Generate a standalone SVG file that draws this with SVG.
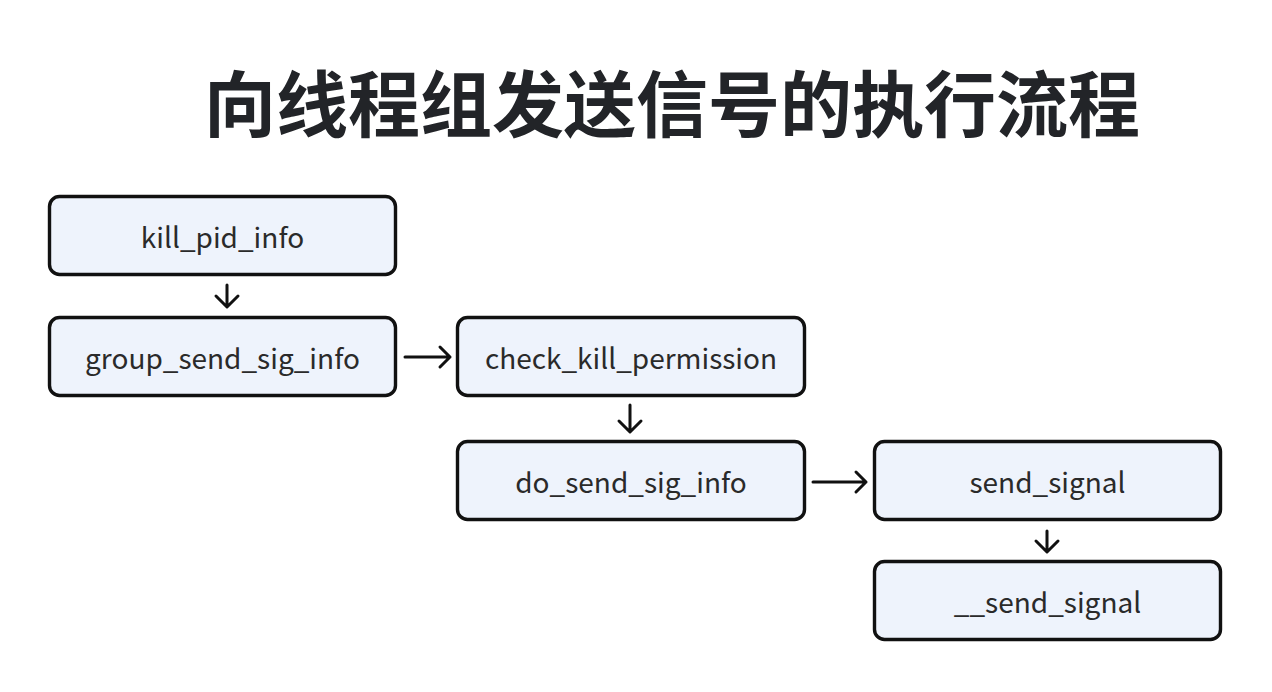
<svg xmlns="http://www.w3.org/2000/svg" width="1272" height="692" viewBox="0 0 1272 692">
<style>
.box{fill:#eef3fc;stroke:#111;stroke-width:3.4}
.lbl{font-family:"Noto Sans CJK SC","Noto Sans",sans-serif;font-size:28px;fill:#2a2a2a;text-anchor:middle}
.title{font-family:"Noto Sans CJK SC",sans-serif;font-size:72px;font-weight:bold;fill:#222428;text-anchor:middle}
.arr{fill:none;stroke:#111;stroke-width:3;stroke-linecap:round;stroke-linejoin:round}
</style>
<rect width="1272" height="692" fill="#ffffff"/>
<text class="title" x="672" y="131">向线程组发送信号的执行流程</text>
<g id="n1"><rect class="box" x="49.5" y="196.5" width="346" height="78" rx="10"/><text class="lbl" x="222.5" y="248">kill_pid_info</text></g>
<g id="n2"><rect class="box" x="49.5" y="317.5" width="346" height="78" rx="10"/><text class="lbl" x="222.5" y="369">group_send_sig_info</text></g>
<g id="n3"><rect class="box" x="457.5" y="317.5" width="347" height="78" rx="10"/><text class="lbl" x="631" y="369">check_kill_permission</text></g>
<g id="n4"><rect class="box" x="457.5" y="441.5" width="347" height="78" rx="10"/><text class="lbl" x="631" y="493">do_send_sig_info</text></g>
<g id="n5"><rect class="box" x="874.5" y="441.5" width="346" height="78" rx="10"/><text class="lbl" x="1047.5" y="493">send_signal</text></g>
<g id="n6"><rect class="box" x="874.5" y="561.5" width="346" height="78" rx="10"/><text class="lbl" x="1047.5" y="613">__send_signal</text></g>
<g id="connectors">
<path class="arr" d="M227 285V306M216 296L227 307L238 296"/>
<path class="arr" d="M405 357H450M440 347L450 357L440 367"/>
<path class="arr" d="M630 405V431M619 421L630 432L641 421"/>
<path class="arr" d="M813 482H866M856 472L866 482L856 492"/>
<path class="arr" d="M1047 531V551M1036 541L1047 552L1058 541"/>
</g>
</svg>
